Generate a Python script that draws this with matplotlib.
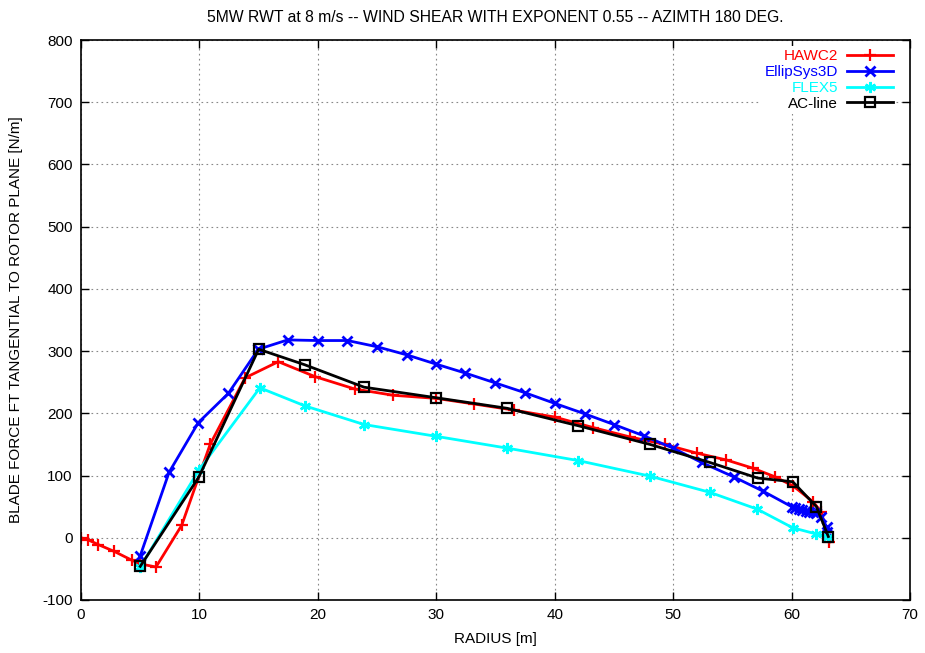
import matplotlib
matplotlib.use("Agg")
import matplotlib.pyplot as plt

plt.rcParams['font.family'] = ['Liberation Sans', 'DejaVu Sans']
plt.rcParams['axes.unicode_minus'] = False

title = "5MW RWT at 8 m/s -- WIND SHEAR WITH EXPONENT 0.55 -- AZIMTH 180 DEG."
xlabel = "RADIUS [m]"
ylabel = "BLADE FORCE FT TANGENTIAL TO ROTOR PLANE [N/m]"

hawc2_r = [0.0, 0.56, 1.46, 2.81, 4.28, 5.0, 6.33, 8.5, 10.9, 13.85, 16.66, 19.76,
           23.13, 26.37, 30.0, 33.2, 36.6, 40.0, 43.26, 46.36, 49.3, 52.0, 54.5,
           56.7, 58.6, 60.15, 61.8, 62.5, 63.2]
hawc2_v = [0, -3, -11, -22, -36, -42, -47, 20, 150, 257, 283, 259,
           239, 229, 224, 215, 205, 194, 177, 162, 150, 136, 125,
           112, 98, 83, 58, 42, -7]

ellip_r = [4.98, 7.43, 9.9, 12.44, 14.97, 17.45, 19.98, 22.5, 25.0, 27.5, 30.0,
           32.4, 34.96, 37.5, 40.0, 42.56, 45.0, 47.5, 50.0, 52.4, 55.1, 57.58,
           60.0, 60.3, 60.6, 60.9, 61.2, 61.5, 61.8, 62.1, 62.5, 62.95, 63.0]
ellip_v = [-30, 105, 185, 232, 303, 318, 317, 317, 307, 294, 279,
           265, 249, 233, 216, 199, 182, 164, 144, 121, 98, 75,
           50, 48, 46, 45, 43, 42, 41, 40, 34, 18, 10]

flex5_r = [5.0, 9.96, 15.1, 18.9, 23.9, 30.0, 36.0, 42.0, 48.05, 53.1, 57.1, 60.1, 62.1, 63.1]
flex5_v = [-47, 109, 241, 212, 182, 163, 144, 124, 99, 73, 46, 16, 6, 2]

acline_r = [5.0, 9.96, 15.0, 18.9, 23.9, 30.0, 36.0, 42.0, 48.05, 53.1, 57.13, 60.1, 62.1, 63.1]
acline_v = [-46, 98, 303, 278, 242, 225, 208, 180, 150, 121, 96, 90, 50, 2]

x_ticks = [0, 10, 20, 30, 40, 50, 60, 70]
y_ticks = [-100, 0, 100, 200, 300, 400, 500, 600, 700, 800]

fig = plt.figure(figsize=(9.25, 6.53), dpi=100)
ax = fig.add_axes([0.0876, 0.0812, 0.8962, 0.8575])

lw = 2.0
ax.plot(hawc2_r, hawc2_v, color='#ff0000', lw=lw, marker='+', ms=9, mew=1.6, label='HAWC2')
ax.plot(ellip_r, ellip_v, color='#0000ff', lw=lw, marker='x', ms=7, mew=2.0, label='EllipSys3D')
ax.plot(flex5_r, flex5_v, color='#00ffff', lw=lw, marker=(6, 2, 0), ms=8, mew=1.8, label='FLEX5')
ax.plot(acline_r, acline_v, color='#000000', lw=lw, marker='s', ms=7, mew=1.6,
        mfc='none', label='AC-line')

ax.set_xlim(0, 70)
ax.set_ylim(-100, 800)
ax.set_xticks(x_ticks)
ax.set_yticks(y_ticks)
ax.tick_params(direction='in', top=True, right=True, length=6, width=1, labelsize=11, pad=6)
for s in ax.spines.values():
    s.set_linewidth(1.2)
ax.grid(True, linestyle=(0, (1.5, 3)), color='#888888', linewidth=0.8)

ax.set_title(title, fontsize=11.3, pad=13)
ax.set_xlabel(xlabel, fontsize=11, labelpad=7)
ax.set_ylabel(ylabel, fontsize=11, labelpad=14)

leg = ax.legend(loc='upper right', bbox_to_anchor=(0.983, 0.989), markerfirst=False,
                labelcolor='linecolor', frameon=True,
                fancybox=False, edgecolor='none', facecolor='white', framealpha=1,
                fontsize=11, handlelength=3.0, borderaxespad=0.0, labelspacing=0.12,
                handletextpad=0.6, borderpad=0.2)

fig.savefig('out.png', dpi=100)
